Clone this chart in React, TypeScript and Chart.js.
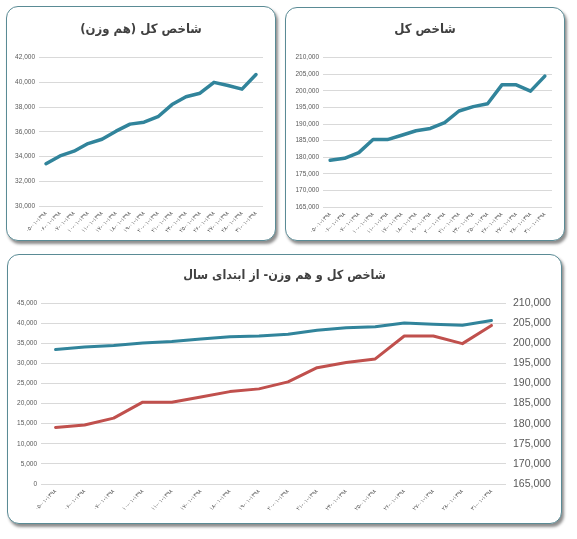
import React, { useEffect, useRef } from "react";
import { Chart, registerables } from "chart.js";

Chart.register(...registerables);

// ---------- data ----------
const LRM = "\u200E";
const dates = [
  "۰۵-۰۱-۱۳۹۸",
  "۰۶-۰۱-۱۳۹۸",
  "۰۷-۰۱-۱۳۹۸",
  "۱۰-۰۱-۱۳۹۸",
  "۱۱-۰۱-۱۳۹۸",
  "۱۷-۰۱-۱۳۹۸",
  "۱۸-۰۱-۱۳۹۸",
  "۱۹-۰۱-۱۳۹۸",
  "۲۰-۰۱-۱۳۹۸",
  "۲۱-۰۱-۱۳۹۸",
  "۲۴-۰۱-۱۳۹۸",
  "۲۵-۰۱-۱۳۹۸",
  "۲۶-۰۱-۱۳۹۸",
  "۲۷-۰۱-۱۳۹۸",
  "۲۸-۰۱-۱۳۹۸",
  "۳۱-۰۱-۱۳۹۸",
];

const equalWeightIndex = [
  33420, 34050, 34430, 35050, 35400, 36050, 36620, 36780, 37220, 38200,
  38830, 39120, 40000, 39740, 39450, 40630,
];

const totalIndex = [
  179050, 179660, 181380, 185350, 185300, 186620, 187970, 188650, 190400,
  193920, 195230, 196100, 201800, 201800, 199900, 204420,
];

const titleEqual = "شاخص کل (هم وزن)";
const titleTotal = "شاخص کل";
const titleBoth = "شاخص کل و هم وزن- از ابتدای سال";

const equalAxis = { min: 30000, max: 42000, step: 2000 };
const totalAxis = { min: 165000, max: 210000, step: 5000 };
const bothLeftAxis = { min: 0, max: 45000, step: 5000 };

// keep visual order day-month-year (left to right)
const dateLabels = dates.map((d) => d.split("-").join(LRM + "-" + LRM));

// ---------- styles ----------
const TEAL = "#31849B";
const RED = "#C0504D";
const FONT_NUM = "'Liberation Sans', Arial, sans-serif";
const FONT_FA = "'DejaVu Sans', sans-serif";
const FONT_TITLE = "'DejaVu Sans Condensed', 'DejaVu Sans', sans-serif";
const TICK_COLOR = "#595959";
const GRID_COLOR = "#d9d9d9";

const fmt = (v: any) => Number(v).toLocaleString("en-US");

function xScale(height: number) {
  return {
    type: "category",
    offset: true,
    grid: { display: false, drawTicks: false },
    border: { display: false },
    ticks: {
      minRotation: 45,
      maxRotation: 45,
      autoSkip: false,
      font: { family: FONT_FA, size: 5.5 },
      color: TICK_COLOR,
      padding: 4,
    },
    afterFit: (a: any) => {
      a.height = height;
    },
  };
}

function yScale(
  ax: { min: number; max: number; step: number },
  width: number,
  size: number,
  padding: number,
  position: "left" | "right" = "left",
  grid = true
) {
  return {
    position,
    min: ax.min,
    max: ax.max,
    grid: { display: grid, color: GRID_COLOR, drawTicks: false, lineWidth: 1 },
    border: { display: false },
    ticks: {
      stepSize: ax.step,
      callback: fmt,
      font: { family: FONT_NUM, size },
      color: TICK_COLOR,
      padding,
    },
    afterFit: (a: any) => {
      a.width = width;
    },
  };
}

// empty right-hand spacer so the title stays centred on the whole panel
function spacer(width: number) {
  return {
    type: "linear",
    position: "right",
    grid: { display: false, drawTicks: false },
    border: { display: false },
    ticks: { display: false },
    afterFit: (a: any) => {
      a.width = width;
    },
  };
}

function title(text: string, size: number, top: number, bottom: number) {
  return {
    display: true,
    text,
    color: "#404040",
    font: { family: FONT_TITLE, size, weight: "bold" as const },
    padding: { top, bottom },
  };
}

function lineDs(label: string, data: number[], color: string, width: number, axis = "y") {
  return {
    label,
    data,
    borderColor: color,
    backgroundColor: color,
    borderWidth: width,
    pointRadius: 0,
    tension: 0,
    borderJoinStyle: "round" as const,
    borderCapStyle: "round" as const,
    yAxisID: axis,
  };
}

const panelStyle = (left: number, top: number, width: number, height: number): React.CSSProperties => ({
  position: "absolute",
  left,
  top,
  width,
  height,
  boxSizing: "border-box",
  border: "1.5px solid #5a8b95",
  borderRadius: 12,
  background: "#fff",
  boxShadow: "2px 3px 3px rgba(0,0,0,0.45)",
});

const canvasStyle = (left: number, top: number, width: number, height: number): React.CSSProperties => ({
  position: "absolute",
  left,
  top,
  width,
  height,
});

export default function App() {
  const ref1 = useRef<HTMLCanvasElement>(null);
  const ref2 = useRef<HTMLCanvasElement>(null);
  const ref3 = useRef<HTMLCanvasElement>(null);

  useEffect(() => {
    const charts: Chart[] = [];

    charts.push(
      new Chart(ref1.current!, {
        type: "line",
        data: { labels: dateLabels, datasets: [lineDs(titleEqual, equalWeightIndex, TEAL, 3.5)] as any },
        options: {
          animation: false,
          responsive: false,
          layout: { padding: 0 },
          plugins: { legend: { display: false }, tooltip: { enabled: false }, title: title(titleEqual, 13, 14, 20) },
          scales: { x: xScale(34), y: yScale(equalAxis, 31, 6.5, 4), pad: spacer(11) } as any,
        },
      })
    );

    charts.push(
      new Chart(ref2.current!, {
        type: "line",
        data: { labels: dateLabels, datasets: [lineDs(titleTotal, totalIndex, TEAL, 3.5)] as any },
        options: {
          animation: false,
          responsive: false,
          layout: { padding: 0 },
          plugins: { legend: { display: false }, tooltip: { enabled: false }, title: title(titleTotal, 13, 14, 20) },
          scales: { x: xScale(33), y: yScale(totalAxis, 37, 6.5, 4), pad: spacer(12) } as any,
        },
      })
    );

    charts.push(
      new Chart(ref3.current!, {
        type: "line",
        data: {
          labels: dateLabels,
          datasets: [
            lineDs(titleEqual, equalWeightIndex, TEAL, 3, "y"),
            lineDs(titleTotal, totalIndex, RED, 3, "y1"),
          ] as any,
        },
        options: {
          animation: false,
          responsive: false,
          layout: { padding: 0 },
          plugins: { legend: { display: false }, tooltip: { enabled: false }, title: title(titleBoth, 12.5, 13, 20) },
          scales: {
            x: xScale(40),
            y: yScale(bothLeftAxis, 33, 6.5, 4, "left", true),
            y1: yScale(totalAxis, 55, 10.5, 7, "right", false),
          } as any,
        },
      })
    );

    return () => charts.forEach((c) => c.destroy());
  }, []);

  return (
    <div style={{ position: "fixed", left: 0, top: 0, width: 577, height: 539, background: "#fff", overflow: "hidden" }}>
      <div style={panelStyle(6, 6, 270, 235)} />
      <div style={panelStyle(285, 7, 280, 234)} />
      <div style={panelStyle(7, 254, 555, 270)} />
      <canvas ref={ref1} width={266} height={232} style={canvasStyle(8, 8, 266, 232)} />
      <canvas ref={ref2} width={278} height={232} style={canvasStyle(286, 8, 278, 232)} />
      <canvas ref={ref3} width={553} height={269} style={canvasStyle(8, 255, 553, 269)} />
    </div>
  );
}
